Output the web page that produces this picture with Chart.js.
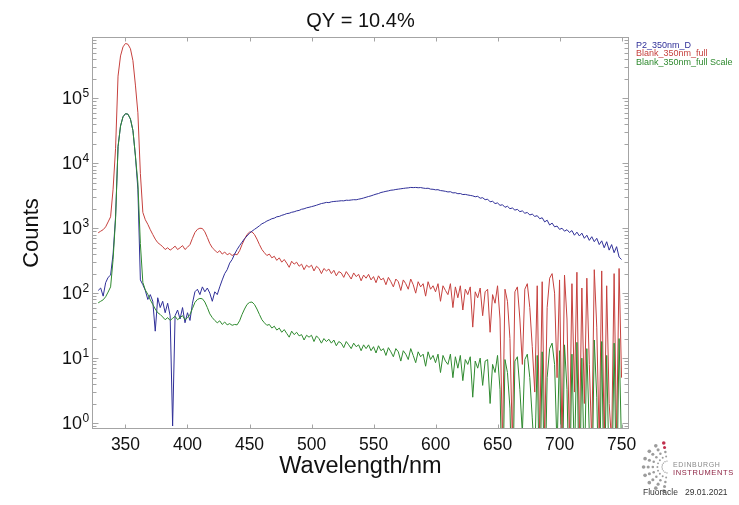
<!DOCTYPE html>
<html><head><meta charset="utf-8">
<script src="https://cdn.jsdelivr.net/npm/chart.js@4/dist/chart.umd.min.js"></script>
<style>html,body{margin:0;padding:0;background:#fff;}canvas{display:block;}</style>
</head><body>
<canvas id="c" width="739" height="505"></canvas>
<script>
const wavelengths = [
328,330,332,334,336,338,340,342,344,346,
348,350,352,354,356,358,360,362,364,366,
368,370,372,374,376,378,380,382,384,386,
388,390,392,394,396,398,400,402,404,406,
408,410,412,414,416,418,420,422,424,426,
428,430,432,434,436,438,440,442,444,446,
448,450,452,454,456,458,460,462,464,466,
468,470,472,474,476,478,480,482,484,486,
488,490,492,494,496,498,500,502,504,506,
508,510,512,514,516,518,520,522,524,526,
528,530,532,534,536,538,540,542,544,546,
548,550,552,554,556,558,560,562,564,566,
568,570,572,574,576,578,580,582,584,586,
588,590,592,594,596,598,600,602,604,606,
608,610,612,614,616,618,620,622,624,626,
628,630,632,634,636,638,640,642,644,646,
648,650,652,654,656,658,660,662,664,666,
668,670,672,674,676,678,680,682,684,686,
688,690,692,694,696,698,700,702,704,706,
708,710,712,714,716,718,720,722,724,726,
728,730,732,734,736,738,740,742,744,746,
748,750];

const p2Counts = [
110,120,90,145,175,190,400,1500,18000,37500,
52000,58000,57000,48000,32000,13000,4000,160,135,110,
80,95,75,26,85,60,75,50,70,45,
0.9,45,55,40,60,35,50,38,70,105,
115,95,125,105,120,100,75,105,95,125,
160,200,230,290,330,400,470,540,610,690,
760,840,900,960,1020,1090,1170,1220,1290,1340,
1400,1430,1500,1520,1580,1620,1680,1700,1760,1790,
1850,1880,1960,1990,2060,2100,2150,2200,2260,2330,
2400,2440,2500,2480,2550,2580,2600,2620,2650,2640,
2700,2690,2720,2750,2740,2800,2850,2920,3000,3080,
3150,3250,3350,3420,3550,3620,3700,3760,3850,3880,
3950,4000,4050,4100,4150,4180,4250,4220,4250,4200,
4230,4150,4100,4130,4000,3980,3900,3920,3800,3760,
3700,3620,3650,3500,3520,3400,3420,3300,3320,3250,
3200,3150,3050,3100,2900,2950,2750,2800,2550,2600,
2400,2450,2250,2300,2100,2180,2000,2050,1900,1950,
1800,1850,1700,1750,1600,1650,1520,1560,1400,1450,
1250,1330,1120,1200,1050,1080,960,1000,900,950,
860,920,780,870,760,840,700,780,650,740,
620,700,560,640,500,620,460,560,420,520,
360,330];

const blankCounts = [
850,900,950,1050,1250,1500,4000,17000,220000,450000,
620000,700000,680000,580000,380000,160000,60000,7000,1750,1350,
1150,950,800,680,600,560,520,470,500,460,
490,530,470,500,540,470,510,560,700,860,
960,1000,990,880,720,580,500,460,420,450,
400,430,390,410,380,400,390,450,560,680,
800,870,880,800,680,560,470,420,380,400,
350,370,320,350,300,330,290,250,310,280,
300,260,280,230,270,250,270,220,260,240,
200,240,220,235,200,225,185,215,205,175,
215,190,165,205,180,195,155,190,170,195,
160,180,145,185,160,170,135,175,150,125,
165,150,110,160,140,115,165,135,100,150,
125,140,90,150,115,130,105,140,75,130,
110,95,140,60,125,85,130,55,115,95,
125,30,105,85,120,45,105,115,25,95,
70,130,40,0.5,115,75,20,0.5,105,125,
40,8,115,140,60,15,3,130,0.5,150,
0.5,60,170,200,100,5,160,0.5,190,40,
0.5,140,3,210,0.5,120,2,170,8,0.5,
230,30,0.5,220,0.5,130,2,0.5,200,0.5,
240,5];

const blankScaleCounts = [
71,75,79,88,104,125,330,1400,18000,37500,
52000,58000,57000,48000,32000,13000,5000,580,146,112,
96,79,67,57,50,47,43,39,42,38,
41,44,39,42,45,39,42,47,58,72,
80,83,82,73,60,48,42,38,35,37.5,
33,36,32.5,34,32,33,32.5,37.5,47,57,
67,72,73,67,57,47,39,35,32,33,
29,31,27,29,25,27.5,24,21,26,23,
25,22,23,19,22.5,21,22.5,18,22,20,
17,20,18,19.5,17,19,15.5,18,17,14.5,
18,16,14,17,15,16,13,16,14,16,
13,15,12,15.5,13,14,11,14.5,12.5,10.5,
14,12.5,9,13,11.5,9.5,14,11,8.5,12.5,
10.5,11.5,7.5,12.5,9.5,11,8.5,11.5,6,11,
9,8,11.5,5,10.5,7,11,4.5,9.5,8,
10.5,2.5,9,7,10,3.8,9,9.5,2,8,
6,11,3.3,0.05,9.5,6,1.7,0.05,9,10.5,
3.3,0.7,9.5,11.5,5,1.2,0.25,11,0.05,12.5,
0.05,5,14,17,8,0.4,13,0.05,16,3.3,
0.05,11.5,0.25,17.5,0.05,10,0.17,14,0.7,0.05,
19,2.5,0.05,18,0.05,11,0.17,0.05,17,0.05,
20,0.4];

const xTickValues = [350,400,450,500,550,600,650,700,750];
const yDecadeValues = [1,10,100,1000,10000,100000];
const seriesNames = ['P2_350nm_D','Blank_350nm_full','Blank_350nm_full Scale'];
const titleText = 'QY = 10.4%';
const yTitle = 'Counts';
const xTitle = 'Wavelength/nm';
const logoLine1 = 'EDINBURGH';
const logoLine2 = 'INSTRUMENTS';
const footerText = 'Fluoracle   29.01.2021';

const FAMILY = '"Liberation Sans", Arial, Helvetica, sans-serif';
const COLORS = ['#2f2f98', '#c6413e', '#2f8a2f'];

function pts(arr){ return wavelengths.map((w,i)=>({x:w, y:arr[i]})); }

const decorPlugin = {
  id: 'decor',
  afterDraw(chart){
    const {ctx, chartArea:a, scales:{x, y}} = chart;
    ctx.save();
    const L = Math.round(a.left)+0.5, R = Math.round(a.right)-0.5, T = Math.round(a.top)+0.5, B = Math.round(a.bottom)-0.5;
    ctx.strokeStyle = '#a4a4a4'; ctx.lineWidth = 1;
    ctx.strokeRect(L, T, R-L, B-T);
    ctx.beginPath();
    xTickValues.forEach(v=>{
      const px = Math.round(x.getPixelForValue(v))+0.5;
      ctx.moveTo(px,B); ctx.lineTo(px,B-4);
      ctx.moveTo(px,T); ctx.lineTo(px,T+4);
    });
    for (let k=-1;k<=6;k++){
      for (let d=1; d<=9; d++){
        const v = d*Math.pow(10,k);
        if (v < y.min || v > y.max) continue;
        const py = Math.round(y.getPixelForValue(v))+0.5;
        const len = d===1 ? 6 : 4;
        ctx.moveTo(L,py); ctx.lineTo(L+len,py);
        ctx.moveTo(R,py); ctx.lineTo(R-len,py);
      }
    }
    ctx.stroke();
    ctx.fillStyle = '#111';
    yDecadeValues.forEach(v=>{
      const py = y.getPixelForValue(v);
      const e = Math.round(Math.log10(v));
      ctx.font = '18px ' + FAMILY;
      ctx.textAlign = 'right'; ctx.textBaseline = 'middle';
      ctx.fillText('10', 82, py+1);
      ctx.font = '12px ' + FAMILY;
      ctx.textAlign = 'left'; ctx.textBaseline = 'alphabetic';
      ctx.fillText(String(e), 82.5, py-1);
    });
    ctx.font = '20px ' + FAMILY;
    ctx.textAlign = 'center'; ctx.textBaseline = 'middle';
    ctx.fillStyle = '#111';
    ctx.fillText(titleText, (a.left+a.right)/2, 21);
    ctx.font = '9px ' + FAMILY;
    ctx.textAlign = 'left'; ctx.textBaseline = 'middle';
    seriesNames.forEach((n,i)=>{
      ctx.fillStyle = COLORS[i];
      ctx.fillText(n, 636, 45.5 + i*8.3);
    });
    const cx = 668, cy = 467;
    for (let r=0; r<9; r++){
      const ang = (100 + r*20) * Math.PI/180;
      for (let j=0; j<5; j++){
        const rad = 6 + j*4.6;
        const dx = cx + Math.cos(ang)*rad, dy = cy - Math.sin(ang)*rad;
        ctx.beginPath();
        ctx.arc(dx, dy, 0.7 + j*0.28, 0, Math.PI*2);
        ctx.fillStyle = (r===0 && j>=3) ? '#c0304e' : '#9c9c9c';
        ctx.fill();
      }
    }
    ctx.textBaseline = 'middle'; ctx.textAlign = 'left';
    ctx.font = '7px ' + FAMILY;
    ctx.fillStyle = '#8a8a8a';
    try { ctx.letterSpacing = '0.6px'; } catch(e) {}
    ctx.fillText(logoLine1, 673, 465);
    ctx.font = '7.5px ' + FAMILY;
    ctx.fillStyle = '#8e2444';
    ctx.fillText(logoLine2, 673, 473);
    try { ctx.letterSpacing = '0px'; } catch(e) {}
    ctx.font = '8.5px ' + FAMILY;
    ctx.fillStyle = '#333';
    ctx.fillText(footerText, 643, 493);
    ctx.restore();
  }
};

new Chart(document.getElementById('c'), {
  type: 'line',
  data: {
    datasets: [
      {label: seriesNames[2], data: pts(blankScaleCounts), borderColor: COLORS[2]},
      {label: seriesNames[0], data: pts(p2Counts), borderColor: COLORS[0]},
      {label: seriesNames[1], data: pts(blankCounts), borderColor: COLORS[1]}
    ]
  },
  options: {
    responsive: false,
    devicePixelRatio: 1,
    animation: false,
    events: [],
    layout: {padding: {top: 37, right: 110, bottom: 0, left: 0}},
    elements: {line: {borderWidth: 1, tension: 0}, point: {radius: 0}},
    plugins: {legend: {display: false}, title: {display: false}, tooltip: {enabled: false}},
    scales: {
      x: {
        type: 'linear', min: 323, max: 756,
        afterBuildTicks: s => { s.ticks = xTickValues.map(v=>({value: v})); },
        afterFit: s => { s.height = 76; },
        grid: {display: false, drawTicks: false},
        border: {display: false},
        ticks: {font: {size: 17.5, family: FAMILY}, color: '#111', padding: 6, maxRotation: 0, autoSkip: false},
        title: {display: true, text: xTitle, font: {size: 23.5, family: FAMILY}, color: '#111', padding: {top: 0, bottom: 24}}
      },
      y: {
        type: 'logarithmic', min: 0.81, max: 880000,
        afterBuildTicks: s => { s.ticks = yDecadeValues.map(v=>({value: v})); },
        afterFit: s => { s.width = 92; },
        grid: {display: false, drawTicks: false},
        border: {display: false},
        ticks: {display: false},
        title: {display: true, text: yTitle, font: {size: 22, family: FAMILY}, color: '#111', padding: {top: 19, bottom: 0}}
      }
    }
  },
  plugins: [decorPlugin]
});
</script>
</body></html>
